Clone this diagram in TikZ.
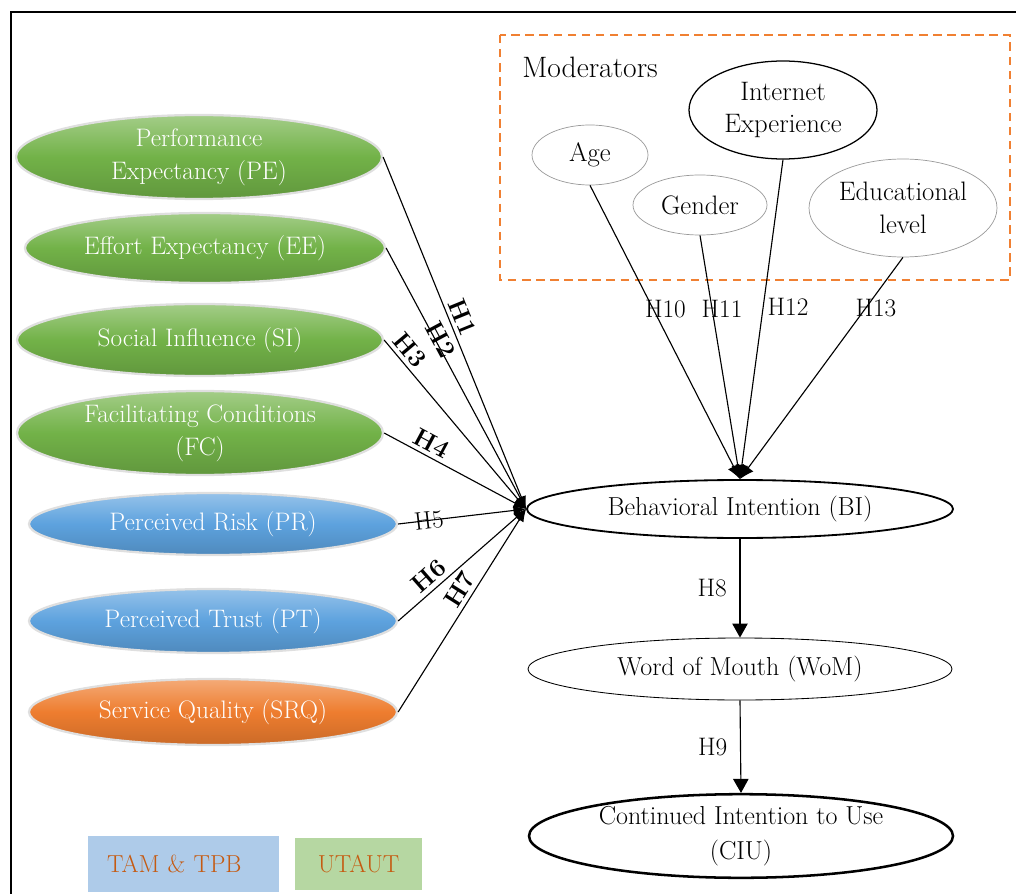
\documentclass[tikz,border=0pt]{standalone}
\usepackage{fontspec}
\usepackage{xcolor}
\usepackage{tikz}
\usetikzlibrary{arrows.meta,shapes.geometric,calc,positioning}

\definecolor{utgreen}{RGB}{114,178,72}
\definecolor{prblue}{RGB}{93,162,222}
\definecolor{sqorange}{RGB}{238,125,47}
\definecolor{modorange}{RGB}{240,128,50}
\definecolor{legblue}{RGB}{174,203,233}
\definecolor{leggreen}{RGB}{182,215,162}
\definecolor{legtext}{RGB}{197,90,17}

\tikzset{
  construct/.style={ellipse, draw=gray!25, line width=1.6pt, text=white, align=center,
    inner sep=0pt, font=\fontsize{18}{23.5}\selectfont},
  utaut/.style={construct, top color=utgreen!65!white, bottom color=utgreen!85!black, middle color=utgreen},
  tamtpb/.style={construct, top color=prblue!65!white, bottom color=prblue!85!black, middle color=prblue},
  srq/.style={construct, top color=sqorange!65!white, bottom color=sqorange!85!black, middle color=sqorange},
  outcome/.style={ellipse, draw, align=center, inner sep=0pt, font=\fontsize{18.5}{24.5}\selectfont},
  moderator/.style={ellipse, draw=gray!80, line width=0.5pt, align=center, inner sep=0pt,
    font=\fontsize{19}{23}\selectfont},
  hyp/.style={-{Latex[length=9pt,width=7pt]}, line width=0.8pt},
  modhyp/.style={-{Latex[length=10pt,width=9pt]}, line width=0.8pt},
  hypdown/.style={-{Triangle[length=10pt,width=11pt]}, line width=0.8pt},
  hlab/.style={font=\fontsize{18}{20}\selectfont, inner sep=3pt},
  hbold/.style={hlab, font=\fontsize{18}{20}\selectfont\bfseries, sloped},
  legend/.style={rectangle, inner sep=0pt, text=legtext, font=\fontsize{17.5}{20}\selectfont}
}

\begin{document}
\begin{tikzpicture}[scale=1]
\useasboundingbox (0,0) rectangle (25.4,-22.35);
\draw[line width=2pt] (0.275,-22.35) -- (0.275,-0.3) -- (25.4,-0.3);

% independent constructs
\node[utaut, minimum width=9.15cm, minimum height=2.1cm] (PE) at (4.975,-3.925) {Performance\\Expectancy (PE)};
\node[utaut, minimum width=9.0cm, minimum height=1.75cm] (EE) at (5.125,-6.2) {Effort Expectancy (EE)};
\node[utaut, minimum width=9.15cm, minimum height=1.8cm] (SI) at (5.0,-8.5) {Social Influence (SI)};
\node[utaut, minimum width=9.15cm, minimum height=2.1cm] (FC) at (5.0,-10.825) {Facilitating Conditions\\(FC)};
\node[tamtpb, minimum width=9.2cm, minimum height=1.55cm] (PR) at (5.325,-13.1) {Perceived Risk (PR)};
\node[tamtpb, minimum width=9.2cm, minimum height=1.6cm] (PT) at (5.325,-15.525) {Perceived Trust (PT)};
\node[srq, minimum width=9.2cm, minimum height=1.65cm] (SRQ) at (5.325,-17.8) {Service Quality (SRQ)};

% dependent constructs
\node[outcome, line width=1.3pt, minimum width=10.65cm, minimum height=1.45cm] (BI) at (18.5,-12.725) {Behavioral Intention (BI)};
\node[outcome, line width=0.6pt, minimum width=10.6cm, minimum height=1.55cm] (WoM) at (18.5,-16.725) {Word of Mouth (WoM)};
\node[outcome, line width=1.8pt, minimum width=10.6cm, minimum height=2.05cm] (CIU) at (18.525,-20.9) {Continued Intention to Use\\(CIU)};

% moderators
\draw[modorange, line width=2pt, dash pattern=on 6pt off 4pt] (12.5,-0.875) rectangle (25.25,-7.0);
\node[anchor=west, inner sep=0pt, font=\fontsize{21}{24}\selectfont] (mods) at (13.05,-1.675) {Moderators};
\node[moderator, minimum width=2.9cm, minimum height=1.5cm] (age) at (14.75,-3.875) {Age};
\node[moderator, minimum width=3.35cm, minimum height=1.5cm] (gender) at (17.5,-5.125) {Gender};
\node[moderator, draw=black, line width=0.9pt, minimum width=4.7cm, minimum height=2.45cm] (inet) at (19.575,-2.75) {Internet\\Experience};
\node[moderator, minimum width=4.7cm, minimum height=2.45cm] (edu) at (22.575,-5.2) {Educational\\level};

% hypotheses
\draw[hyp] (PE.east) -- node[hbold, above, pos=.47] {H1} (BI.west);
\draw[hyp] (EE.east) -- node[hbold, above=-6pt, pos=.36] {H2} (BI.west);
\draw[hyp] (SI.east) -- node[hbold, above, pos=.11] {H3} (BI.west);
\draw[hyp] (FC.east) -- node[hbold, above, pos=.29] {H4} (BI.west);
\draw[hyp] (PR.east) -- node[hlab, sloped, pos=.24] {H5} (BI.west);
\draw[hyp] (PT.east) -- node[hbold, above, pos=.31] {H6} (BI.west);
\draw[hyp] (SRQ.east) -- node[hbold, above, pos=.57] {H7} (BI.west);

\draw[hypdown] (BI.south) -- node[hlab, left=6pt] {H8} (WoM.north);
\draw[hypdown] (WoM.south) -- node[hlab, left=6pt] {H9} (CIU.north);

\draw[modhyp] (age.south) -- node[hlab, pos=.42, xshift=0.31cm] {H10} (BI.north);
\draw[modhyp] (gender.south) -- node[hlab, pos=.3, xshift=0.25cm] {H11} (BI.north);
\draw[modhyp] (inet.south) -- node[hlab, pos=.46, xshift=0.62cm] {H12} (BI.north);
\draw[modhyp] (edu.south) -- node[hlab, pos=.23, xshift=0.26cm] {H13} (BI.north);

% legend
\node[legend, fill=legblue, minimum width=4.775cm, minimum height=1.4cm, text width=3.825cm, inner xsep=0.475cm, align=left] (tam) at (4.5875,-21.6) {TAM \& TPB};
\node[legend, fill=leggreen, minimum width=3.175cm, minimum height=1.3cm] (ut) at (8.9625,-21.6) {UTAUT};
\end{tikzpicture}
\end{document}
